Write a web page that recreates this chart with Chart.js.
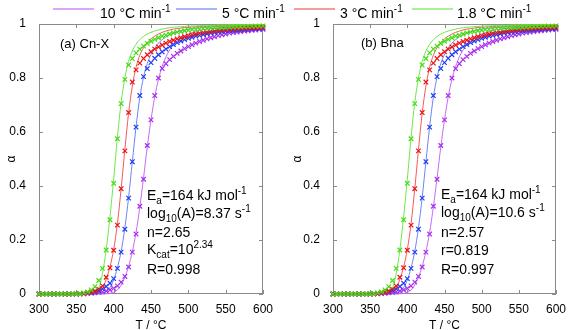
<!DOCTYPE html>
<html>
<head>
<meta charset="utf-8">
<script src="https://cdn.jsdelivr.net/npm/chart.js@4/dist/chart.umd.min.js"></script>
<style>
  body { margin: 0; background: #fff; }
  #wrap { position: relative; width: 569px; height: 330px; overflow: hidden; font-family: "Liberation Sans", Arial, sans-serif; color: #000; }
  canvas { position: absolute; top: 0; }
  .t { position: absolute; font-size: 14px; line-height: 14px; white-space: nowrap; }
  .t sub { font-size: 10px; line-height: 0; vertical-align: -4px; }
  .t sup { font-size: 10px; line-height: 0; vertical-align: 6px; }
  .lg { position: absolute; height: 2px; width: 41px; top: 8px; opacity: 0.6; }
</style>
</head>
<body>
<div id="wrap">
  <canvas id="chartA" width="284" height="330" style="left:0px"></canvas>
  <canvas id="chartB" width="283" height="330" style="left:286px"></canvas>

  <!-- legend -->
  <div class="lg" style="left:53px;background:#c56af5"></div>
  <div class="t" style="left:100px;top:6px">10 °C min<sup>-1</sup></div>
  <div class="lg" style="left:176px;background:#6a84f3"></div>
  <div class="t" style="left:222px;top:6px">5 °C min<sup>-1</sup></div>
  <div class="lg" style="left:294px;background:#f25a5a"></div>
  <div class="t" style="left:340px;top:6px">3 °C min<sup>-1</sup></div>
  <div class="lg" style="left:412px;background:#6fe84a"></div>
  <div class="t" style="left:457px;top:6px">1.8 °C min<sup>-1</sup></div>

  <!-- panel labels -->
  <div class="t" style="left:60px;top:37px;font-size:13px;line-height:13px">(a) Cn-X</div>
  <div class="t" style="left:361px;top:36px;font-size:13px;line-height:13px">(b) Bna</div>

  <!-- fit parameters, panel a -->
  <div class="t" style="left:147px;top:188px">E<sub>a</sub>=164 kJ mol<sup>-1</sup></div>
  <div class="t" style="left:147px;top:206px">log<sub>10</sub>(A)=8.37 s<sup>-1</sup></div>
  <div class="t" style="left:147px;top:225px">n=2.65</div>
  <div class="t" style="left:147px;top:242px">K<sub>cat</sub>=10<sup>2.34</sup></div>
  <div class="t" style="left:147px;top:262px">R=0.998</div>

  <!-- fit parameters, panel b -->
  <div class="t" style="left:441px;top:187px">E<sub>a</sub>=164 kJ mol<sup>-1</sup></div>
  <div class="t" style="left:441px;top:205px">log<sub>10</sub>(A)=10.6 s<sup>-1</sup></div>
  <div class="t" style="left:441px;top:225px">n=2.57</div>
  <div class="t" style="left:441px;top:243px">r=0.819</div>
  <div class="t" style="left:441px;top:262px">R=0.997</div>
</div>

<script>
// temperature grid (°C)
var temps = [300,305,310,315,320,325,330,335,340,345,350,355,360,365,370,375,380,385,390,395,
  400,405,410,415,420,425,430,435,440,445,450,455,460,465,470,475,480,485,490,495,
  500,505,510,515,520,525,530,535,540,545,550,555,560,565,570,575,580,585,590,595,600];

// measured conversion (markers), same data in both panels
var data10 = [0,0,0,0,0,0,0,0,0,0,0,
  .001,.001,.002,.003,.004,.006,.008,.011,.015,.021,
  .03,.044,.065,.1,.155,.222,.325,.425,.55,.645,
  .735,.80,.835,.853,.868,.88,.891,.9,.909,.916,
  .923,.929,.935,.94,.945,.949,.953,.957,.96,.963,
  .966,.968,.97,.972,.974,.975,.977,.978,.979,.98];
var data5 = [0,0,0,0,0,0,0,0,0,0,0,
  .001,.002,.004,.006,.009,.013,.019,.028,.04,.057,
  .095,.155,.24,.355,.49,.618,.735,.805,.835,.857,
  .873,.886,.897,.907,.916,.924,.931,.937,.942,.947,
  .951,.955,.958,.961,.964,.966,.968,.97,.972,.974,
  .975,.976,.977,.978,.979,.98,.981,.982,.983,.984];
var data3 = [0,0,0,0,0,0,0,0,0,0,.001,
  .001,.002,.004,.007,.011,.018,.03,.062,.097,.162,
  .255,.39,.53,.672,.785,.83,.855,.872,.886,.897,
  .907,.915,.922,.929,.935,.94,.945,.949,.953,.957,
  .96,.963,.966,.968,.97,.972,.974,.976,.977,.979,
  .98,.981,.982,.983,.984,.985,.986,.986,.987,.988];
var data18 = [0,0,0,0,0,0,0,0,0,.001,.001,
  .002,.004,.008,.015,.027,.05,.095,.163,.275,.41,
  .575,.705,.795,.848,.872,.893,.907,.918,.928,.936,
  .943,.949,.955,.959,.963,.967,.97,.972,.975,.977,
  .979,.98,.981,.983,.984,.985,.986,.987,.987,.988,
  .989,.989,.99,.99,.991,.991,.992,.992,.992,.993];

// model fits (lines)
var fit10 = [0,0,0,0,0,0,0,0,0,0,0,0,0,0,0,0,0,0,
  .001,.002,.006,.015,.033,.062,.102,.157,.228,.322,
  .43,.545,.645,.73,.795,.843,.878,.904,.923,.937,
  .948,.956,.963,
  .968,.972,.976,.979,.981,.983,.985,.986,.987,.988,
  .989,.99,.991,.991,.992,.992,.993,.993,.994,.994];
var fit5 = [0,0,0,0,0,0,0,0,0,0,0,0,0,0,0,0,
  .001,.003,.009,.024,.052,.097,.158,.245,.358,.49,
  .62,.728,.803,.853,.887,.911,.929,.942,.952,.96,
  .966,.971,.975,.978,.981,
  .983,.985,.986,.987,.988,.989,.99,.991,.991,.992,
  .993,.993,.993,.994,.994,.994,.995,.995,.995,.996];
var fit3 = [0,0,0,0,0,0,0,0,0,0,0,0,0,0,0,
  .001,.005,.02,.055,.1,.165,.26,.39,.535,.67,
  .77,.84,.884,.912,.931,.945,.955,.963,.969,.974,
  .978,.981,.983,.985,.987,.988,
  .989,.99,.991,.991,.992,.993,.993,.994,.994,.994,
  .995,.995,.995,.996,.996,.996,.996,.997,.997,.997];
var fit18 = [0,0,0,0,0,0,0,0,0,0,0,0,0,0,
  .001,.005,.022,.075,.165,.285,.425,.58,.71,.8,
  .862,.9,.925,.942,.954,.963,.969,.974,.978,.981,
  .984,.986,.988,.989,.99,.991,.992,
  .993,.993,.994,.994,.995,.995,.995,.996,.996,.996,
  .997,.997,.997,.997,.998,.998,.998,.998,.998,.998];

var xTicks = [300, 350, 400, 450, 500, 550, 600];
var yTicks = [0, 0.2, 0.4, 0.6, 0.8, 1];

var markerColors = { r10: '#a82ef0', r5: '#1f3cf5', r3: '#ee1111', r18: '#44dd11' };
var lineColors = { r10: '#c56af5', r5: '#6a84f3', r3: '#f25a5a', r18: '#6fe84a' };

function pts(vals) {
  return temps.map(function (t, i) { return { x: t, y: vals[i] }; });
}

function markerSet(vals, col) {
  return {
    type: 'scatter', data: pts(vals), showLine: false,
    pointStyle: 'crossRot', pointRadius: 3.2, pointBorderWidth: 1.2,
    borderColor: col, backgroundColor: col, clip: false
  };
}
function lineSet(vals, col) {
  return {
    type: 'line', data: pts(vals), borderColor: col, borderWidth: 1,
    pointRadius: 0, cubicInterpolationMode: 'monotone', clip: false
  };
}

// axis box with inward tick marks
var boxTicks = {
  id: 'boxTicks',
  beforeDatasetsDraw: function (chart) {
    var ctx = chart.ctx, a = chart.chartArea, x = chart.scales.x, y = chart.scales.y;
    ctx.save();
    ctx.strokeStyle = '#8a8a8a';
    ctx.lineWidth = 1;
    ctx.strokeRect(a.left + 0.5, a.top + 0.5, a.right - a.left - 1, a.bottom - a.top - 1);
    ctx.beginPath();
    xTicks.forEach(function (v) {
      var px = Math.round(x.getPixelForValue(v)) + 0.5;
      ctx.moveTo(px, a.bottom); ctx.lineTo(px, a.bottom - 4);
      ctx.moveTo(px, a.top); ctx.lineTo(px, a.top + 4);
    });
    yTicks.forEach(function (v) {
      var py = Math.round(y.getPixelForValue(v)) + 0.5;
      ctx.moveTo(a.left, py); ctx.lineTo(a.left + 4, py);
      ctx.moveTo(a.right, py); ctx.lineTo(a.right - 4, py);
    });
    ctx.stroke();
    ctx.restore();
  }
};

function makeChart(id, yWidth, padRight) {
  var font = { family: '"Liberation Sans", Arial, sans-serif', size: 12 };
  return new Chart(document.getElementById(id), {
    data: {
      datasets: [
        markerSet(data18, markerColors.r18),
        markerSet(data3, markerColors.r3),
        markerSet(data5, markerColors.r5),
        markerSet(data10, markerColors.r10),
        lineSet(fit18, lineColors.r18),
        lineSet(fit3, lineColors.r3),
        lineSet(fit5, lineColors.r5),
        lineSet(fit10, lineColors.r10)
      ]
    },
    options: {
      responsive: false,
      animation: false,
      devicePixelRatio: 1,
      layout: { padding: { top: 24, right: padRight, left: 0, bottom: 0 } },
      plugins: { legend: { display: false }, tooltip: { enabled: false } },
      scales: {
        x: {
          type: 'linear', min: 300, max: 600,
          afterBuildTicks: function (s) { s.ticks = xTicks.map(function (v) { return { value: v }; }); },
          afterFit: function (s) { s.height = 36; },
          grid: { display: false },
          border: { display: false },
          ticks: { font: font, color: '#000', padding: 0, maxRotation: 0 },
          title: { display: true, text: 'T / °C', font: font, color: '#000', padding: { top: 0, bottom: -3 } }
        },
        y: {
          type: 'linear', min: 0, max: 1,
          afterBuildTicks: function (s) { s.ticks = yTicks.map(function (v) { return { value: v }; }); },
          afterFit: function (s) { s.width = yWidth; },
          grid: { display: false },
          border: { display: false },
          ticks: {
            font: font, color: '#000', padding: 5,
            callback: function (v) { return (v === 0 || v === 1) ? String(v) : v.toFixed(1); }
          },
          title: { display: true, text: 'α', font: font, color: '#000', padding: 4 }
        }
      }
    },
    plugins: [boxTicks]
  });
}

makeChart('chartA', 39, 21);
makeChart('chartB', 47, 13);
</script>
</body>
</html>
